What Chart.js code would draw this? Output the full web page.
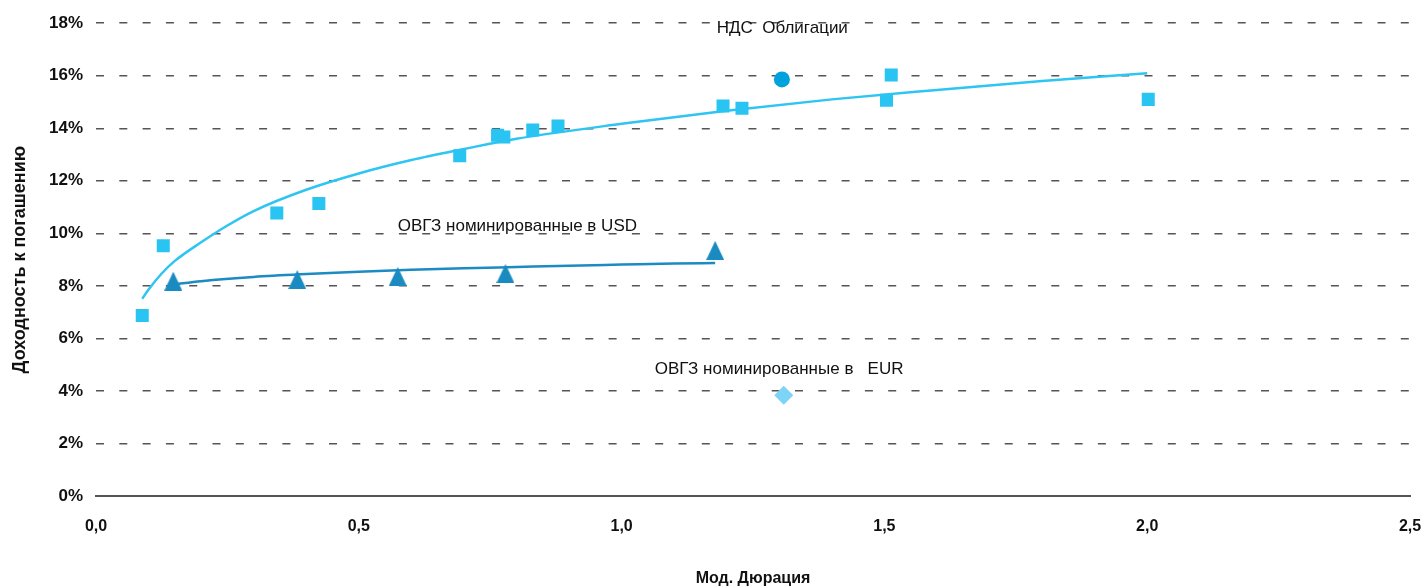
<!DOCTYPE html>
<html>
<head>
<meta charset="utf-8">
<script src="https://cdn.jsdelivr.net/npm/chart.js@4.4.1/dist/chart.umd.min.js"></script>
<style>
  html, body { margin: 0; padding: 0; background: #fff; }
</style>
</head>
<body>
<canvas id="chart" width="1426" height="588"></canvas>
<script>
// НДС облигации (квадраты)
const ndsDuration = [0.088, 0.128, 0.344, 0.424, 0.692, 0.764, 0.776, 0.831, 0.879, 1.193, 1.229, 1.504, 1.513, 2.002];
const ndsYield    = [6.87, 9.53, 10.77, 11.14, 12.95, 13.73, 13.67, 13.93, 14.09, 14.85, 14.76, 15.07, 16.03, 15.10];

// отдельная точка НДС (круг)
const ndsPointDuration = [1.305];
const ndsPointYield    = [15.86];

// ОВГЗ в USD (треугольники)
const usdDuration = [0.147, 0.383, 0.574, 0.779, 1.178];
const usdYield    = [8.18, 8.24, 8.36, 8.47, 9.35];

// ОВГЗ в EUR (ромб)
const eurDuration = [1.3085];
const eurYield    = [3.84];

// линии тренда
const ndsTrendX = [0.088, 0.1, 0.125, 0.15, 0.2, 0.25, 0.3, 0.4, 0.5, 0.6, 0.7, 0.8, 1.0, 1.2, 1.4, 1.6, 1.8, 2.0];
const ndsTrendY = [7.51, 7.86, 8.47, 8.95, 9.66, 10.30, 10.85, 11.66, 12.28, 12.79, 13.21, 13.60, 14.17, 14.67, 15.10, 15.46, 15.80, 16.09];
const usdTrendX = [0.147, 0.2, 0.3, 0.4, 0.5, 0.6, 0.7, 0.8, 0.9, 1.0, 1.1, 1.178];
const usdTrendY = [8.06, 8.18, 8.34, 8.45, 8.54, 8.61, 8.67, 8.72, 8.77, 8.81, 8.85, 8.87];

// подписи серий
const seriesLabels = [
  { text: 'НДС  Облигации', x: 1.181, y: 17.81 },
  { text: 'ОВГЗ номинированные в USD', x: 0.574, y: 10.25 },
  { text: 'ОВГЗ номинированные в   EUR', x: 1.063, y: 4.82 }
];

const toPoints = (xs, ys) => xs.map((x, i) => ({ x: x, y: ys[i] }));

function triangleMarker(w, h, color) {
  const c = document.createElement('canvas');
  c.width = w;
  c.height = h;
  const g = c.getContext('2d');
  g.fillStyle = color;
  g.beginPath();
  g.moveTo(w / 2, 0);
  g.lineTo(w, h);
  g.lineTo(0, h);
  g.closePath();
  g.fill();
  return c;
}

const labelPlugin = {
  id: 'seriesLabels',
  afterDatasetsDraw(chart) {
    const ctx = chart.ctx;
    const xs = chart.scales.x, ys = chart.scales.y;
    ctx.save();
    ctx.font = '17px "Liberation Sans", Arial, sans-serif';
    ctx.fillStyle = '#111';
    ctx.textAlign = 'left';
    ctx.textBaseline = 'middle';
    seriesLabels.forEach(l => {
      ctx.fillText(l.text, xs.getPixelForValue(l.x), ys.getPixelForValue(l.y));
    });
    ctx.restore();
  }
};

Chart.defaults.font.family = '"Liberation Sans", Arial, sans-serif';
Chart.defaults.color = '#111';

new Chart(document.getElementById('chart'), {
  type: 'scatter',
  data: {
    datasets: [
      {
        label: 'НДС Облигации',
        data: toPoints(ndsDuration, ndsYield),
        pointStyle: 'rect',
        pointRadius: 9.2,
        backgroundColor: '#29C4F1',
        borderColor: '#29C4F1',
        borderWidth: 0
      },
      {
        label: 'НДС',
        data: toPoints(ndsPointDuration, ndsPointYield),
        pointStyle: 'circle',
        pointRadius: 8,
        backgroundColor: '#00A2DE',
        borderWidth: 0
      },
      {
        label: 'ОВГЗ USD',
        data: toPoints(usdDuration, usdYield),
        pointStyle: triangleMarker(18, 19, '#1A8BC0'),
        pointRadius: 9
      },
      {
        label: 'ОВГЗ EUR',
        data: toPoints(eurDuration, eurYield),
        pointStyle: 'rectRot',
        pointRadius: 9.5,
        backgroundColor: '#7ED4F6',
        borderWidth: 0
      },
      {
        label: 'Тренд НДС',
        data: toPoints(ndsTrendX, ndsTrendY),
        showLine: true,
        borderColor: '#2EC5F2',
        borderWidth: 2.5,
        pointRadius: 0,
        cubicInterpolationMode: 'monotone'
      },
      {
        label: 'Тренд USD',
        data: toPoints(usdTrendX, usdTrendY),
        showLine: true,
        borderColor: '#1B8BC2',
        borderWidth: 2.5,
        pointRadius: 0,
        cubicInterpolationMode: 'monotone'
      }
    ]
  },
  options: {
    responsive: false,
    animation: false,
    layout: { padding: { left: 0, right: 16, top: 22, bottom: 0 } },
    plugins: {
      legend: { display: false },
      tooltip: { enabled: false }
    },
    scales: {
      x: {
        type: 'linear',
        min: 0,
        max: 2.5,
        afterFit: s => { s.height = 92; s.paddingRight = 0; s.paddingLeft = 0; },
        ticks: {
          stepSize: 0.5,
          padding: 21,
          font: { size: 16, weight: 'bold' },
          callback: v => v.toFixed(1).replace('.', ',')
        },
        grid: { display: false, drawTicks: false },
        border: { display: true, color: '#555', width: 2 },
        title: {
          display: true,
          text: 'Мод. Дюрация',
          font: { size: 16, weight: 'bold' },
          padding: { top: 0, bottom: 0 }
        }
      },
      y: {
        min: 0,
        max: 18,
        afterFit: s => { s.width = 96; },
        ticks: {
          stepSize: 2,
          padding: 13,
          font: { size: 17, weight: 'bold' },
          callback: v => v + '%'
        },
        grid: {
          color: '#555',
          lineWidth: 1.5,
          drawTicks: false
        },
        border: { display: false, dash: [8, 15.3] },
        title: {
          display: true,
          text: 'Доходность к погашению',
          font: { size: 18, weight: 'bold' },
          padding: { top: 9, bottom: 0 }
        }
      }
    }
  },
  plugins: [labelPlugin]
});
</script>
</body>
</html>
